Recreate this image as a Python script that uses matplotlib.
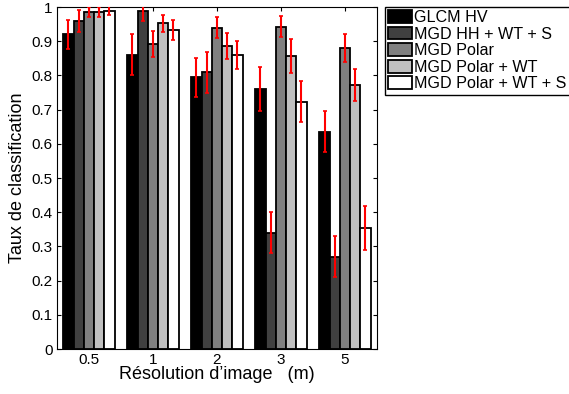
import matplotlib
matplotlib.use('Agg')
import matplotlib.pyplot as plt
import numpy as np

plt.rcParams['font.family'] = ['Liberation Sans', 'DejaVu Sans']

resolutions = ['0.5', '1', '2', '3', '5']
methods = ['GLCM HV', 'MGD HH + WT + S', 'MGD Polar', 'MGD Polar + WT', 'MGD Polar + WT + S']
colors = ['#000000', '#404040', '#808080', '#c0c0c0', '#ffffff']

# taux de classification par méthode (une valeur par résolution)
glcm_hv = [0.92, 0.86, 0.795, 0.76, 0.635]
mgd_hh_wt_s = [0.96, 0.99, 0.81, 0.34, 0.27]
mgd_polar = [0.985, 0.893, 0.94, 0.943, 0.88]
mgd_polar_wt = [0.985, 0.953, 0.887, 0.857, 0.773]
mgd_polar_wt_s = [0.99, 0.933, 0.86, 0.723, 0.355]

err_glcm_hv = [0.043, 0.06, 0.057, 0.065, 0.06]
err_mgd_hh_wt_s = [0.032, 0.03, 0.06, 0.06, 0.06]
err_mgd_polar = [0.015, 0.038, 0.03, 0.03, 0.04]
err_mgd_polar_wt = [0.015, 0.025, 0.038, 0.05, 0.047]
err_mgd_polar_wt_s = [0.012, 0.03, 0.04, 0.06, 0.064]

values = [glcm_hv, mgd_hh_wt_s, mgd_polar, mgd_polar_wt, mgd_polar_wt_s]
errors = [err_glcm_hv, err_mgd_hh_wt_s, err_mgd_polar, err_mgd_polar_wt, err_mgd_polar_wt_s]

fig = plt.figure(figsize=(5.69, 3.94), dpi=100)
ax = fig.add_axes([0.1, 0.114, 0.5626, 0.868])

x = np.arange(1, len(resolutions) + 1)
n = len(methods)
w = 0.8 / n
for i in range(n):
    pos = x + (i - (n - 1) / 2) * w
    ax.bar(pos, values[i], w, color=colors[i], edgecolor='black', linewidth=1.3,
           label=methods[i], zorder=2)
    ax.errorbar(pos, values[i], yerr=errors[i], fmt='none', ecolor='red',
                elinewidth=1.5, capsize=1.5, capthick=1.2, zorder=3)

ax.set_xlim(0.5, 5.5)
ax.set_ylim(0, 1)
ax.set_xticks(x)
ax.set_xticklabels(resolutions)
ax.set_yticks(np.arange(0, 1.01, 0.1))
ax.set_yticklabels(['0'] + ['%.1f' % v for v in np.arange(0.1, 0.95, 0.1)] + ['1'])
ax.tick_params(direction='in', top=True, right=True, labelsize=11, length=3, pad=3)
ax.set_xlabel("Résolution d’image   (m)", fontsize=13, labelpad=-1)
ax.set_ylabel('Taux de classification', fontsize=13, labelpad=4)

fig.legend(loc='upper left', bbox_to_anchor=(0.676, 0.983), fontsize=11.6,
           fancybox=False, edgecolor='black', framealpha=1, borderpad=0.2,
           labelspacing=0.1, handlelength=1.5, handleheight=0.85,
           handletextpad=0.15, borderaxespad=0)

fig.savefig('out.png', dpi=100)
